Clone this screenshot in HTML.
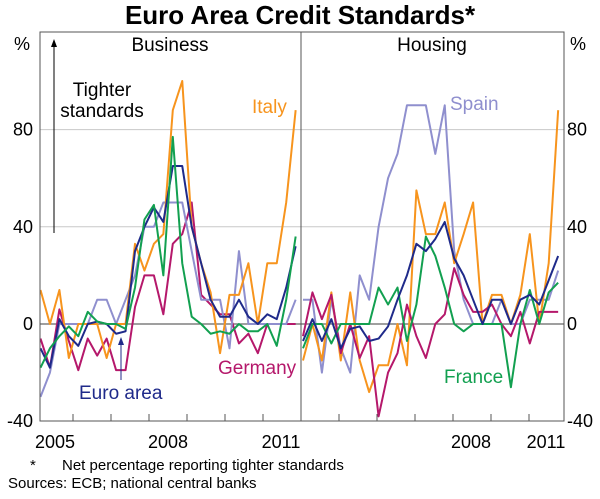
<!DOCTYPE html>
<html><head><meta charset="utf-8"><style>
body{margin:0;background:#fff;}
svg text{font-family:"Liberation Sans",Arial,sans-serif;}
</style></head><body>
<svg id="c" width="600" height="494" xmlns="http://www.w3.org/2000/svg">
<text x="300" y="24" text-anchor="middle" font-size="26" font-weight="bold" fill="#000">Euro Area Credit Standards*</text>
<g id="grid"></g><g id="lines"></g><g id="axes"></g>
<text x="30" y="470" font-size="15">*</text>
<text x="62" y="470" font-size="15">Net percentage reporting tighter standards</text>
<text x="8" y="488" font-size="15">Sources: ECB; national central banks</text>
</svg>
<script>
const yTicks=[-40,0,40,80];
const yearLabels=["2005","2008","2011"];
const bizItaly=[14,0,14,-14,0,0,0,-14,0,0,33,22,33,37,88,100,40,25,13,-12,12,12,25,0,25,25,50,88];
const bizEuro=[-10,-18,2,-5,-9,0,1,0,-4,-3,30,40,48,42,65,65,40,25,10,3,3,10,3,0,4,2,15,32];
const bizFrance=[-18,-10,-5,-1,-5,5,1,0,0,-2,15,43,49,20,77,25,3,0,-4,-3,-4,0,-3,-3,0,-9,10,36];
const bizGermany=[-6,-18,6,-7,-19,-6,-13,-6,-19,-19,7,20,20,4,33,37,50,12,8,4,4,-8,-4,-12,0,0,0,0];
const bizSpain=[-30,-20,0,0,0,0,10,10,0,10,20,40,40,50,50,50,30,10,10,10,-10,30,0,0,0,0,0,10];
const houItaly=[-15,0,-15,13,-15,13,-15,-28,-17,-17,0,-17,55,37,37,50,25,37,50,0,12,12,0,12,37,0,25,88];
const houEuro=[-7,2,-7,2,-10,-2,-1,-7,-6,-1,10,20,33,30,35,42,27,20,10,0,10,10,0,10,12,8,18,28];
const houFrance=[-10,0,0,-8,0,0,0,0,15,8,15,-7,8,36,28,15,0,-3,0,0,0,0,-26,0,14,0,13,17];
const houGermany=[-5,13,2,12,-12,0,-14,-5,-38,-20,-12,8,-5,-14,0,4,23,12,5,5,8,0,-5,5,-8,5,5,5];
const houSpain=[10,10,-20,10,-10,-20,20,10,40,60,70,90,90,90,70,90,30,10,0,0,0,10,0,0,10,10,10,22];

const NS="http://www.w3.org/2000/svg";
const L=40,M=301,R=564,T=32,B=421;
const y=v=>324-v*2.43;
const xb=i=>40.5+i*9.45, xh=i=>303+i*9.45;
function mk(tag,attrs,parent){const e=document.createElementNS(NS,tag);for(const k in attrs)e.setAttribute(k,attrs[k]);document.getElementById(parent).appendChild(e);return e;}
yTicks.forEach(v=>{
  if(v===80||v===40){const g=mk('line',{x1:L,x2:R,y1:y(v),y2:y(v),stroke:'#c8c8c8','stroke-width':1},'grid');
  
  }
  const t1=mk('text',{x:33,y:y(v)+6,'text-anchor':'end','font-size':18},'axes');t1.textContent=v;
  
  
  const t2=mk('text',{x:567,y:y(v)+6,'font-size':18},'axes');t2.textContent=v;
  
  
});
const z=mk('line',{x1:L,x2:R,y1:y(0),y2:y(0),stroke:'#666','stroke-width':1.2},'grid');


function draw(arr,xf,col,name){
  const p=mk('polyline',{points:arr.map((v,i)=>xf(i)+','+y(v)).join(' '),fill:'none',stroke:col,'stroke-width':2,'stroke-linejoin':'round'},'lines');
  
  
}
const C={it:'#f7941d',eu:'#1f2a8a',fr:'#12a050',de:'#b5186b',es:'#8f8fce'};
draw(bizGermany,xb,C.de,'business-germany-line');draw(bizSpain,xb,C.es,'business-spain-line');
draw(bizItaly,xb,C.it,'business-italy-line');draw(bizEuro,xb,C.eu,'business-euro-line');draw(bizFrance,xb,C.fr,'business-france-line');
draw(houSpain,xh,C.es,'housing-spain-line');draw(houItaly,xh,C.it,'housing-italy-line');
draw(houGermany,xh,C.de,'housing-germany-line');draw(houFrance,xh,C.fr,'housing-france-line');draw(houEuro,xh,C.eu,'housing-euro-line');
const fr=mk('rect',{x:L,y:T,width:R-L,height:B-T,fill:'none',stroke:'#555','stroke-width':1},'axes');


const dv=mk('line',{x1:M,x2:M,y1:T,y2:B,stroke:'#555','stroke-width':1},'axes');


[73,111,149,187,225,263,339,377,415,453,491,529].forEach(px=>{
  const t=mk('line',{x1:px,x2:px,y1:B,y2:B-7,stroke:'#555'},'axes');
  
  
});
[[55,0],[168,1],[281,2],[471,1],[546,2]].forEach(([px,i])=>{
  const t=mk('text',{x:px,y:448,'text-anchor':'middle','font-size':18},'axes');t.textContent=yearLabels[i];
  
  
});
function lab(txt,x,yy,col,name,anchor,size){const t=mk('text',{x:x,y:yy,fill:col,'font-size':size||19,'text-anchor':anchor||'start'},'axes');t.textContent=txt;
  
  }
lab('%',22,50,'#000','y-unit-left','middle',18);lab('%',578,50,'#000','y-unit-right','middle',18);
lab('Business',170,51,'#000','panel-title-business','middle');lab('Housing',432,51,'#000','panel-title-housing','middle');
lab('Tighter',102,96,'#000','annotation-tighter','middle');lab('standards',102,117,'#000','annotation-standards','middle');
lab('Italy',252,113,C.it,'label-italy');lab('Germany',218,374,C.de,'label-germany');
lab('Euro area',79,399,C.eu,'label-euro-area');lab('Spain',450,110,C.es,'label-spain');lab('France',444,383,C.fr,'label-france');
const a1=mk('line',{x1:54,x2:54,y1:233,y2:44,stroke:'#000','stroke-width':1},'axes');


const h1=mk('polygon',{points:'54,39 51,47 57,47',fill:'#000'},'axes');


const a2=mk('line',{x1:121,x2:121,y1:380,y2:342,stroke:C.eu,'stroke-width':1},'axes');


const h2=mk('polygon',{points:'121,337 118,345 124,345',fill:C.eu},'axes');


</script>
</body></html>
